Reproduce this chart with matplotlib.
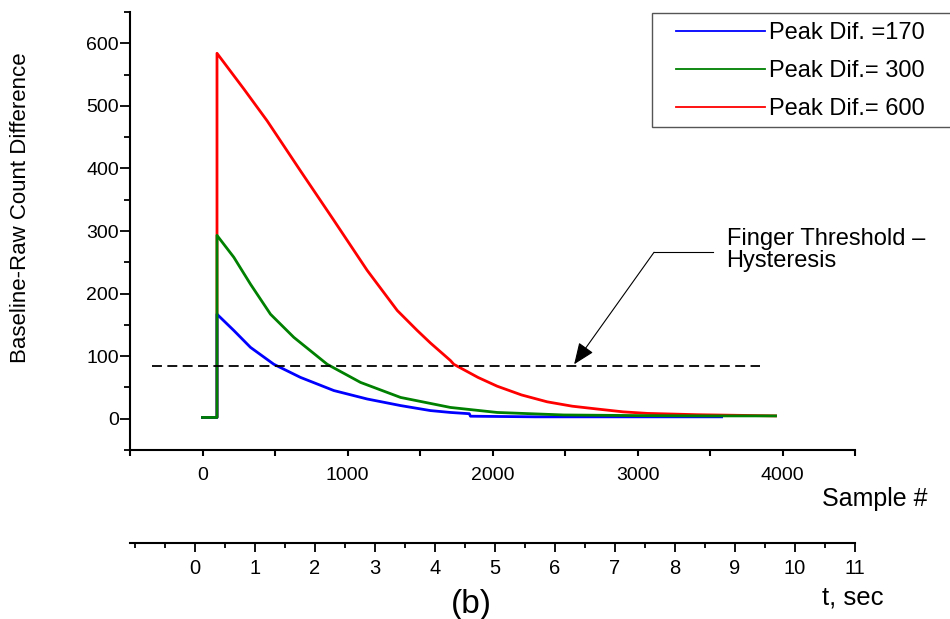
import matplotlib
matplotlib.use("Agg")
import matplotlib.pyplot as plt
from matplotlib.patches import Rectangle

plt.rcParams['font.family'] = ['Liberation Sans', 'DejaVu Sans']

# ---- data ----
red_x = [0, 100, 100, 285, 446, 676, 906, 1136, 1343, 1481, 1572, 1710, 1733, 1900, 2032, 2200, 2377, 2550, 2722, 2900, 3067, 3412, 3869, 3952]
red_y = [2, 2, 584, 527, 476, 396, 317, 237, 173, 141, 121, 93, 87, 66, 52, 38, 27, 20, 15.5, 11, 8.5, 6.4, 4.8, 4.5]

green_x = [0, 100, 100, 216, 331, 469, 630, 860, 1090, 1366, 1710, 2032, 2490, 3000, 3500, 3952]
green_y = [2, 2, 293, 258, 215, 167, 130, 87, 58, 34, 18, 10, 6, 5, 4.5, 4.5]

blue_x = [0, 100, 100, 216, 331, 492, 676, 906, 1136, 1366, 1572, 1710, 1840, 1848, 2300, 3000, 3580]
blue_y = [2, 2, 167, 141, 114, 87, 66, 45, 31.5, 21, 13, 10, 8, 4, 3, 3, 3]

labels = ["Peak Dif. =170", "Peak Dif.= 300", "Peak Dif.= 600"]
threshold = 85
thr_x = [-345, 3848]

x_ticks = [0, 1000, 2000, 3000, 4000]
y_ticks = [0, 100, 200, 300, 400, 500, 600]
t_ticks = list(range(0, 12))

W, H = 950, 619
fig = plt.figure(figsize=(W / 100, H / 100), dpi=100)

ax = fig.add_axes([130 / W, 1 - 450 / H, 725 / W, (450 - 12) / H])
ax.set_xlim(-500, 4500)
ax.set_ylim(-50, 650)

lw = 2.0
l_red, = ax.plot(red_x, red_y, color='#ff0000', lw=lw, zorder=3)
l_blue, = ax.plot(blue_x, blue_y, color='#0000ff', lw=lw, zorder=4)
l_green, = ax.plot(green_x, green_y, color='#008000', lw=lw, zorder=5)

ax.plot(thr_x, [threshold, threshold], color='black', lw=1.3, dashes=(5.5, 3), zorder=6)

# annotation
ax.plot([3522, 3114], [266, 266], color='black', lw=0.8, zorder=6)
ax.annotate('', xy=(2563, 87), xytext=(3114, 266),
            arrowprops=dict(arrowstyle='-|>,head_length=1.1,head_width=0.45',
                            mutation_scale=12, lw=0.8, color='black',
                            shrinkA=0, shrinkB=0), zorder=7)
ax.text(3614, 270, "Finger Threshold \u2013\nHysteresis", fontsize=17,
        ha='left', va='center', linespacing=1.02, clip_on=False)

for s in ['top', 'right']:
    ax.spines[s].set_visible(False)
for s in ['left', 'bottom']:
    ax.spines[s].set_linewidth(1.5)

ax.set_xticks(x_ticks)
ax.set_xticks([-500, 500, 1500, 2500, 3500, 4500], minor=True)
ax.set_yticks(y_ticks)
ax.set_yticks([-50, 50, 150, 250, 350, 450, 550, 650], minor=True)
ax.tick_params(axis='x', which='both', direction='out', length=4, width=1.5, pad=8, labelsize=14)
ax.tick_params(axis='y', which='major', direction='out', length=7, width=1.3, pad=1, labelsize=14)
ax.tick_params(axis='y', which='minor', direction='out', length=4.5, width=1.3)

ax.set_ylabel("Baseline-Raw Count Difference", fontsize=16)
ax.yaxis.set_label_coords(-(130 - 31) / 725, (450 - 208) / 438)

fig.text(927 / W, 1 - 499 / H, "Sample #", fontsize=18, ha='right', va='center')

# secondary time axis
ax2 = fig.add_axes([130 / W, 1 - 543 / H, 725 / W, 0.0001])
ax2.set_xlim(-1.0833, 11)
ax2.set_ylim(0, 1)
ax2.patch.set_visible(False)
for s in ['top', 'right', 'left']:
    ax2.spines[s].set_visible(False)
ax2.spines['bottom'].set_linewidth(1.5)
ax2.set_yticks([])
ax2.set_xticks(t_ticks)
ax2.set_xticklabels([str(t) for t in t_ticks])
ax2.set_xticks([-1] + [t + 0.5 for t in range(-1, 11)], minor=True)
ax2.tick_params(axis='x', which='major', direction='out', length=6.5, width=1.3, pad=5, labelsize=14.5)
ax2.tick_params(axis='x', which='minor', direction='out', length=3.5, width=1.3)

fig.text(883 / W, 1 - 598 / H, "t, sec", fontsize=18.5, ha='right', va='center')
fig.text(471 / W, 1 - 604 / H, "(b)", fontsize=24, ha='center', va='center')

# legend
fig.patches.append(Rectangle((652 / W, 1 - 127 / H), 0.4, 114 / H, transform=fig.transFigure,
                             facecolor='white', edgecolor='#555555', lw=1.0, zorder=10))
leg = fig.legend([l_blue, l_green, l_red], labels, loc='upper left',
                 bbox_to_anchor=(676 / W, 1 - 22 / H), frameon=False, fontsize=17,
                 handlelength=3.75, handletextpad=0.2, labelspacing=0.68,
                 borderpad=0, borderaxespad=0)
leg.set_zorder(11)
for h in leg.get_lines():
    h.set_linewidth(1.3)

fig.savefig("out.png", dpi=100, facecolor='white')
